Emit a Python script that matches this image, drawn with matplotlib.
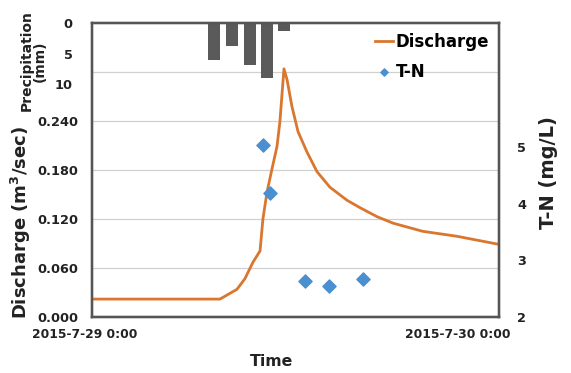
import matplotlib
matplotlib.use("Agg")
import matplotlib.pyplot as plt
import matplotlib.transforms as mtransforms

plt.rcParams['font.family'] = ['DejaVu Sans']
plt.rcParams['font.weight'] = 'bold'

# hours after 2015-7-29 0:00
q_hours = [0, 2, 4, 6, 7.55, 8.55, 9.02, 9.49, 9.91, 10.08, 10.32, 10.61, 10.91, 11.08,
           11.32, 11.5, 11.79, 12.15, 12.68, 13.27, 14.03, 15.04, 15.8, 16.8,
           17.75, 19.5, 21.5, 24.0]
discharge = [0.022, 0.022, 0.022, 0.022, 0.022, 0.034, 0.047, 0.067, 0.081, 0.120, 0.153,
             0.181, 0.209, 0.239, 0.304, 0.291, 0.258, 0.227, 0.202, 0.178, 0.159,
             0.143, 0.134, 0.123, 0.115, 0.105, 0.099, 0.089]

tn_hours = [10.08, 10.5, 12.56, 13.97, 15.98]
tn = [5.03, 4.19, 2.63, 2.55, 2.67]

rain_hours = [7.2, 8.25, 9.3, 10.3, 11.3]
rain = [6.0, 3.7, 6.8, 9.0, 1.3]

xtick_labels = ['2015-7-29 0:00', '2015-7-30 0:00']

orange = '#D9772E'
blue = '#4A8FD0'
frame = '#555555'
txt = '#222222'

fig = plt.figure(figsize=(5.71, 3.73), dpi=100)
ax = fig.add_axes([0.161, 0.150, 0.713, 0.788])
ax3 = ax.twinx()
ax2 = ax.twinx()

# discharge
ax.plot(q_hours, discharge, color=orange, lw=2, label='Discharge', zorder=3)
ax.set_xlim(0, 24)
ax.set_ylim(0, 0.36)
ax.set_yticks([0, 0.06, 0.12, 0.18, 0.24, 0.30])
ax.set_yticklabels(['0.000', '0.060', '0.120', '0.180', '0.240', ''])
ax.grid(axis='y', color='#d0d0d0', lw=0.9)
ax.set_axisbelow(True)
ax.set_xticks([0, 24])
ax.set_xticklabels(xtick_labels)
ax.tick_params(axis='y', length=0, labelsize=9.3, colors=txt, pad=10)
ax.tick_params(axis='x', length=0, labelsize=8.9, colors=txt, pad=8)
lbls = ax.get_xticklabels()
lbls[0].set_transform(lbls[0].get_transform() + mtransforms.ScaledTranslation(-0.07, 0, fig.dpi_scale_trans))
lbls[1].set_horizontalalignment('right')
lbls[1].set_transform(lbls[1].get_transform() + mtransforms.ScaledTranslation(0.11, 0, fig.dpi_scale_trans))
ax.set_xlabel('Time', fontsize=11.3, fontweight='bold', color=txt)
ax.xaxis.set_label_coords(0.44, -0.125)
ax.set_ylabel('Discharge (m$^3$/sec)', fontsize=13, fontweight='bold', color=txt)
ax.yaxis.set_label_coords(-0.145, 0.323)

# precipitation (inverted, hanging from the top)
ax3.bar(rain_hours, rain, width=0.7, color='#5a5a5a', zorder=2)
ax3.set_ylim(48.2, 0)
ax3.set_yticks([0, 5, 10])
ax3.yaxis.tick_left()
ax3.yaxis.set_label_position('left')
ax3.tick_params(axis='y', length=0, labelsize=9.3, colors=txt, pad=14)
ax3.set_ylabel('Precipitation\n(mm)', fontsize=10, fontweight='bold', linespacing=0.95, color=txt)
ax3.yaxis.set_label_coords(-0.11, 0.871)

# T-N
ax2.scatter(tn_hours, tn, marker='D', s=45, color=blue, label='T-N', zorder=4)
ax2.set_ylim(2, 7.19)
ax2.set_yticks([2, 3, 4, 5])
ax2.tick_params(axis='y', length=0, labelsize=9.3, colors=txt, pad=13)
ax2.set_ylabel('T-N (mg/L)', fontsize=14, fontweight='bold', color=txt)
ax2.yaxis.set_label_coords(1.098, 0.493)

for a in (ax, ax2, ax3):
    for s in a.spines.values():
        s.set_color(frame)
        s.set_linewidth(1.6)

h1, l1 = ax.get_legend_handles_labels()
h2, l2 = ax2.get_legend_handles_labels()
ax2.legend(h1 + h2, l1 + l2, loc='upper right', frameon=False,
           handlelength=1.1, handletextpad=0.15, labelspacing=0.7,
           borderaxespad=0.2, borderpad=0.4, markerscale=0.55,
           prop={'weight': 'bold', 'size': 12})

fig.savefig('out.png', dpi=100)
